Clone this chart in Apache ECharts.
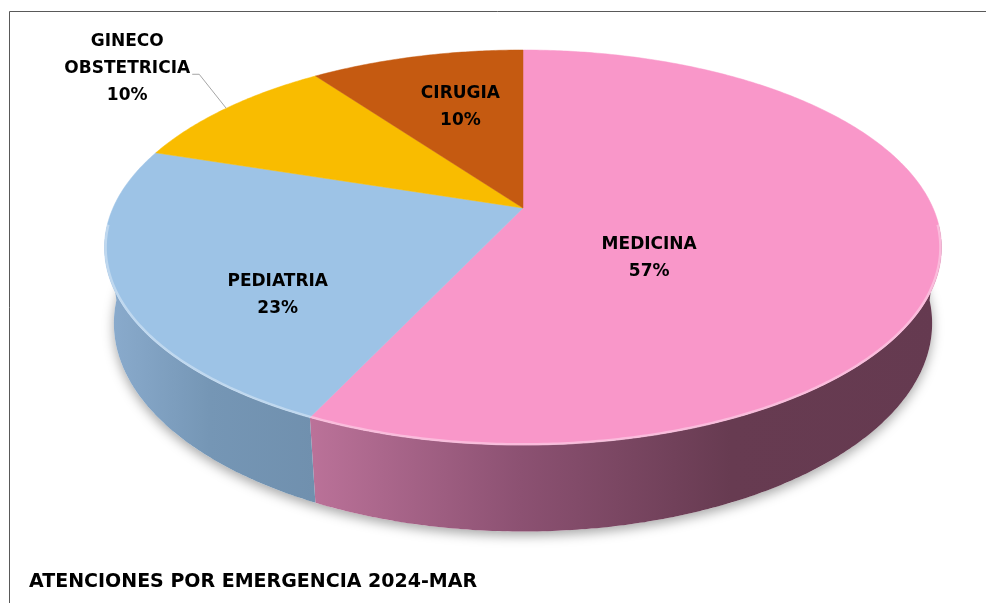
<!DOCTYPE html>
<html>
<head>
<meta charset="utf-8">
<script src="https://cdn.jsdelivr.net/npm/echarts@6/dist/echarts.min.js"></script>
<style>
  html, body { margin: 0; padding: 0; background: #fff; }
  #main { width: 986px; height: 603px; }
</style>
</head>
<body>
<div id="main"></div>
<script>
// datos
const categories = ['MEDICINA', 'PEDIATRIA', 'GINECO OBSTETRICIA', 'CIRUGIA']
const values = [57, 23, 10, 10]
const topColors = ['#F997C9', '#9DC3E6', '#F9BC00', '#C55A11']
const wallColors = [
  ['#bb7299', '#8c5172', '#673b51', '#653a50'],
  ['#8bacce', '#7596b5', '#7090ae'],
  ['#c99800', '#b58900'],
  ['#9e470c', '#8a3e0a']
]
// posicion de etiquetas (fraccion del radio, giro en grados respecto al angulo medio)
const labelPlace = [
  { r: 0.385, turn: 28 },
  { r: 0.69, turn: -14 },
  { outside: true },
  { r: 0.62, turn: 2 }
]

// geometria del disco en perspectiva
const cx = 523, cy = 208
const R = 410, H = 86
const sa = 0.4625, ca = 0.8866, f = 1817
const FONT = 'DejaVu Sans'
const total = values.reduce((a, b) => a + b, 0)

function proj(phi, r, h) {
  const X = r * Math.sin(phi)
  const Z = -r * Math.cos(phi)
  const yy = Z * sa + h * ca
  const zz = Z * ca - h * sa
  const k = f / (f - zz)
  return [cx + X * k, cy + yy * k]
}

function arc(a, b, r, h) {
  const pts = []
  const n = Math.max(4, Math.ceil((b - a) / 0.01))
  for (let j = 0; j <= n; j++) {
    pts.push(proj(a + (b - a) * j / n, r, h))
  }
  return pts
}

const visFrom = 95 * Math.PI / 180
const visTo = 265 * Math.PI / 180

const labelStyle = {
  fill: '#000',
  fontFamily: FONT,
  fontWeight: 'bold',
  fontSize: 17,
  lineHeight: 27,
  align: 'center',
  verticalAlign: 'middle'
}

function renderItem(params, api) {
  const i = params.dataIndex
  const before = values.slice(0, i).reduce((a, b) => a + b, 0)
  const start = before / total * Math.PI * 2
  const end = start + api.value(0) / total * Math.PI * 2
  const mid = (start + end) / 2
  const children = []

  if (i === 0) {
    // sombra bajo el disco
    children.push({
      type: 'polygon',
      z2: 0,
      shape: { points: arc(0, Math.PI * 2, R, H) },
      style: {
        fill: '#ffffff',
        shadowBlur: 12,
        shadowOffsetY: 4,
        shadowColor: 'rgba(0,0,0,0.35)'
      }
    })
  }

  // pared lateral visible
  const a = Math.max(start, visFrom)
  const b = Math.min(end, visTo)
  if (b > a) {
    const topArc = arc(a, b, R, 0)
    const botArc = arc(a, b, R, H).reverse()
    const pts = topArc.concat(botArc)
    const xs = pts.map(p => p[0])
    const x0 = Math.min.apply(null, xs)
    const x1 = Math.max.apply(null, xs)
    const cols = wallColors[i]
    children.push({
      type: 'polygon',
      z2: 2,
      shape: { points: pts },
      style: {
        fill: new echarts.graphic.LinearGradient(x0, 0, x1, 0,
          cols.map((c, j) => ({ offset: j / (cols.length - 1), color: c })), true)
      }
    })
    // brillo del borde
    children.push({
      type: 'polyline',
      z2: 12,
      shape: { points: arc(a, b, R - 1, 0) },
      style: { stroke: 'rgba(255,255,255,0.35)', lineWidth: 2.5, fill: null }
    })
  }

  // cara superior
  children.push({
    type: 'polygon',
    z2: 10,
    shape: { points: [proj(0, 0, 0)].concat(arc(start, end, R, 0)) },
    style: { fill: topColors[i], stroke: topColors[i], lineWidth: 0.5 }
  })

  // etiqueta
  const pct = Math.round(api.value(0) / total * 100) + '%'
  const lp = labelPlace[i]
  if (lp.outside) {
    const edge = proj(mid, R, 0)
    const elbow = [edge[0] - 27, edge[1] - 34]
    const end2 = [elbow[0] - 7, elbow[1]]
    children.push({
      type: 'polyline',
      z2: 20,
      shape: { points: [edge, elbow, end2] },
      style: { stroke: '#a6a6a6', lineWidth: 1, fill: null }
    })
    children.push({
      type: 'text',
      z2: 20,
      x: end2[0] - 65,
      y: end2[1] - 6,
      style: Object.assign({ text: categories[i].split(' ').join('\n') + '\n' + pct }, labelStyle)
    })
  } else {
    const p = proj(mid + lp.turn * Math.PI / 180, R * lp.r, 0)
    children.push({
      type: 'text',
      z2: 20,
      x: p[0],
      y: p[1],
      style: Object.assign({ text: categories[i] + '\n' + pct }, labelStyle)
    })
  }

  return { type: 'group', children: children }
}

const chart = echarts.init(document.getElementById('main'), null, { renderer: 'canvas' })
const option = {
  animation: false,
  backgroundColor: '#fff',
  title: {
    text: 'ATENCIONES POR EMERGENCIA 2024-MAR',
    left: 29,
    top: 573,
    padding: 0,
    textStyle: {
      fontFamily: FONT,
      fontWeight: 'bold',
      fontSize: 19,
      color: '#000'
    }
  },
  graphic: [
    { type: 'line', shape: { x1: 9.5, y1: 11.5, x2: 986, y2: 11.5 }, style: { stroke: '#595959', lineWidth: 1 } },
    { type: 'line', shape: { x1: 9.5, y1: 11.5, x2: 9.5, y2: 603 }, style: { stroke: '#595959', lineWidth: 1 } }
  ],
  series: [{
    type: 'custom',
    coordinateSystem: 'none',
    renderItem: renderItem,
    data: values.map((v, i) => ({ name: categories[i], value: v }))
  }]
}
chart.setOption(option)
</script>
</body>
</html>
